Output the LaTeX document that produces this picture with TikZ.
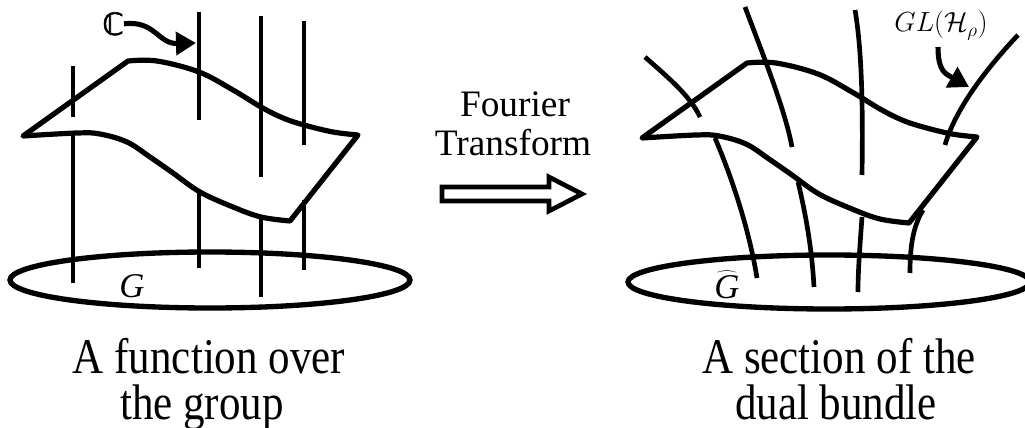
\documentclass[tikz,border=0pt]{standalone}
\usepackage{fontspec}
\setmainfont{Liberation Serif}
\newfontfamily\cfont[FakeBold=2]{DejaVu Sans}
\usetikzlibrary{arrows.meta}
\begin{document}
\begin{tikzpicture}[x=0.75pt,y=-0.75pt,
  fiber/.style={line width=3.5pt},
  surf/.style={line width=3.9pt, line join=round},
  basespace/.style={line width=4pt},
  lbl/.style={inner sep=0pt, anchor=base},
  capfont/.style={inner sep=0pt, anchor=base, font=\fontsize{37.5}{40}\selectfont},
  curvedarrow/.style={line width=3.8pt, -{Triangle[length=15pt,width=17pt]}},
]
\useasboundingbox (0,0) rectangle (1025,428);

% ---------- left: function over the group ----------
\draw[basespace] (210,280) ellipse [x radius=200, y radius=28];
\draw[surf] (23,136) -- (128,61)
  -- plot[smooth, tension=0.6] coordinates {(128,61) (157,61) (199,72) (233,90) (261,107) (283,118) (304,125) (333,132) (358,135)}
  -- (290,221)
  -- plot[smooth, tension=0.6] coordinates {(290,221) (261,217) (233,207) (200,192) (173,173) (150,157) (127,142) (100,134) (77,133) (23,136)}
  -- cycle;
\draw[fiber] (73,66) -- (73,117);
\draw[fiber] (73,135) -- (73,283);
\draw[fiber] (199,12) -- (199,120);
\draw[fiber] (199,192) -- (199,268);
\draw[fiber] (261,16) -- (261,177);
\draw[fiber] (261,217) -- (261,297);
\draw[fiber] (304,21) -- (304,145);
\draw[fiber] (304,200) -- (304,270);

\node[lbl, font=\fontsize{26}{30}\selectfont\itshape] (G) at (132,297) {G};
\node[lbl, font=\fontsize{23}{28}\selectfont\cfont] (C) at (113,35) {ℂ};
\coordinate (Ctip) at (196,43);
\draw[curvedarrow] (C.east) .. controls (155,20) and (158,44) .. (Ctip);

\node[capfont] (capL1) at (209,373) {\scalebox{0.86}[1]{A function over}};
\node[capfont] (capL2) at (202,419) {\scalebox{0.86}[1]{the group}};

% ---------- middle: Fourier transform ----------
\node[lbl, font=\fontsize{28}{30}\selectfont] (F1) at (515,117) {Fourier};
\node[lbl, font=\fontsize{28}{30}\selectfont] (F2) at (513,156) {Transform};
\draw[line width=3.5pt, line join=miter] (442,187) -- (549,187) -- (549,177) -- (582,194)
  -- (549,211) -- (549,201) -- (442,201) -- cycle;

% ---------- right: section of the dual bundle ----------
\draw[basespace] (829,282) ellipse [x radius=201, y radius=27];
\begin{scope}[shift={(619,2)}]
\draw[surf] (23,136) -- (128,61)
  -- plot[smooth, tension=0.6] coordinates {(128,61) (157,61) (199,72) (233,90) (261,107) (283,118) (304,125) (333,132) (358,135)}
  -- (290,221)
  -- plot[smooth, tension=0.6] coordinates {(290,221) (261,217) (233,207) (200,192) (173,173) (150,157) (127,142) (100,134) (77,133) (23,136)}
  -- cycle;
\end{scope}
\draw[fiber] (645,57) .. controls (665,75) and (690,95) .. (700,117);
\draw[fiber] (715,138) .. controls (735,185) and (750,235) .. (757,278);
\draw[fiber] (745,7) .. controls (765,60) and (785,110) .. (792,147);
\draw[fiber] (798,182) .. controls (806,215) and (812,250) .. (814,287);
\draw[fiber] (855,10) .. controls (862,50) and (863,110) .. (862,175);
\draw[fiber] (862,217) .. controls (860,245) and (858,270) .. (858,292);
\draw[fiber] (1018,35) .. controls (985,70) and (955,110) .. (945,145);
\draw[fiber] (923,210) .. controls (912,228) and (910,250) .. (910,273);

\node[lbl, font=\fontsize{26}{30}\selectfont] (Ghat) at (727,298) {$\widehat{\mbox{\itshape G}}$};
\node[lbl, font=\fontsize{22}{26}\selectfont] (GL) at (941,32) {$GL(\mathcal{H}_\rho)$};
\coordinate (GLstart) at (938,47);
\coordinate (GLtip) at (969,87);
\draw[curvedarrow] (GLstart) .. controls (938,72) and (946,74) .. (GLtip);

\node[capfont] (capR1) at (839,373) {\scalebox{0.86}[1]{A section of the}};
\node[capfont] (capR2) at (836,419) {\scalebox{0.86}[1]{dual bundle}};
\end{tikzpicture}
\end{document}
